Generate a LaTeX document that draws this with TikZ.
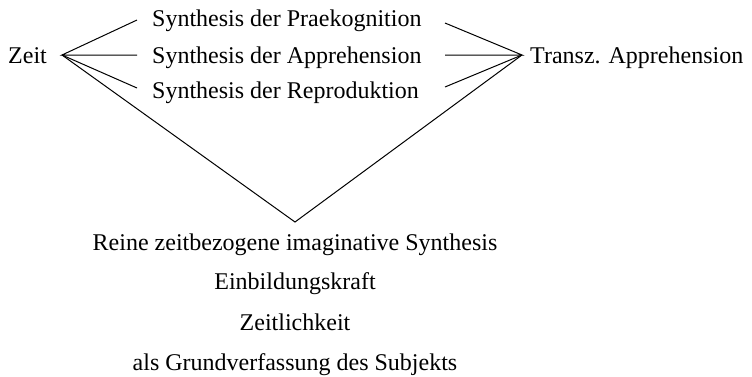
\documentclass[tikz,border=0pt]{standalone}
\usepackage{fontspec}
\setmainfont{Liberation Serif}
\begin{document}
\begin{tikzpicture}[x=1pt,y=-1pt,
  txt/.style={inner sep=0pt, font=\fontsize{24}{28}\selectfont},
  ln/.style={line width=1pt}]
\useasboundingbox (0,0) rectangle (752,376);
% left and right text
\node[txt, anchor=base west] (zeit) at (8,63) {Zeit};
\node[txt, anchor=base west] (transz) at (530,63) {Transz. Apprehension};
% middle texts
\node[txt, anchor=base west] (s1) at (152,26) {Synthesis der Praekognition};
\node[txt, anchor=base west] (s2) at (152,63) {Synthesis der Apprehension};
\node[txt, anchor=base west] (s3) at (152,98) {Synthesis der Reproduktion};
% bottom texts
\node[txt, anchor=base] (b1) at (295,250) {Reine zeitbezogene imaginative Synthesis};
\node[txt, anchor=base] (b2) at (295,289) {Einbildungskraft};
\node[txt, anchor=base] (b3) at (295,330) {Zeitlichkeit};
\node[txt, anchor=base] (b4) at (295,370) {als Grundverfassung des Subjekts};
% fan points
\coordinate (zp) at (62,55);
\coordinate (tp) at (522,55);
\coordinate (apex) at (295,222);
\coordinate (l1) at (137,20);
\coordinate (l2) at (137,55);
\coordinate (l3) at (137,88);
\coordinate (r1) at (445,23);
\coordinate (r2) at (445,55);
\coordinate (r3) at (445,87);
% connectors
\draw[ln] (l1) -- (zp) -- (l2);
\draw[ln] (zp) -- (l3);
\draw[ln] (zp) -- (apex) -- (tp);
\draw[ln] (r1) -- (tp) -- (r2);
\draw[ln] (r3) -- (tp);
\end{tikzpicture}
\end{document}
